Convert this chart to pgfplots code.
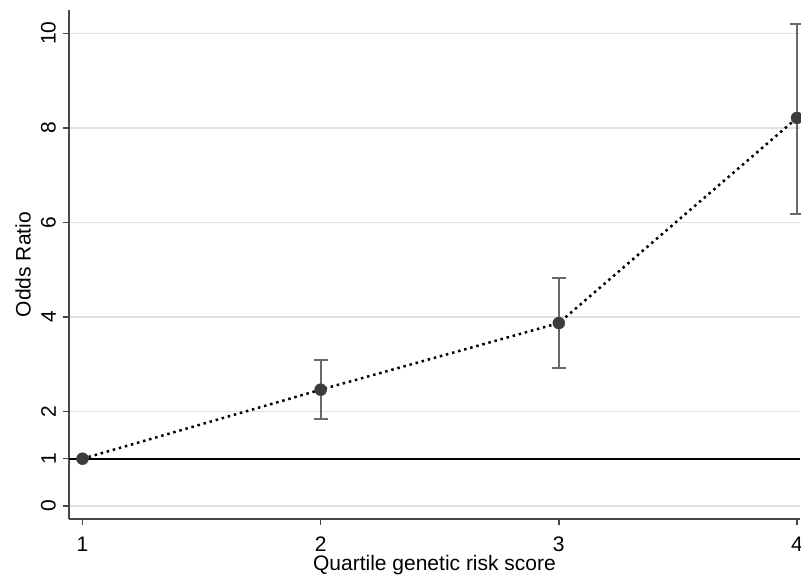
\documentclass[border=0pt]{standalone}
\usepackage{pgfplots}
\pgfplotsset{compat=1.18}
\usepackage{fontspec}
\setmainfont{Liberation Sans}
\definecolor{gridc}{RGB}{225,225,225}
\definecolor{axc}{RGB}{70,70,70}
\definecolor{markc}{RGB}{60,60,60}
\definecolor{errc}{RGB}{105,105,105}
\begin{document}
\fontsize{21}{25}\selectfont
\begin{tikzpicture}
\begin{axis}[
  scale only axis,
  width=731pt, height=509pt,
  xmin=0.9433, xmax=4.0126,
  ymin=-0.275, ymax=10.493,
  axis x line*=bottom, axis y line*=left,
  axis line style={axc, line width=1.6pt},
  xtick={1,2,3,4},
  ytick={0,1,2,4,6,8,10},
  tick align=outside,
  major tick length=6pt,
  tick style={axc, line width=1.4pt},
  ymajorgrids=true,
  grid style={gridc, line width=1.4pt},
  /pgf/number format/assume math mode=true,
  tick label style={font=\fontsize{21}{25}\selectfont},
  label style={font=\fontsize{21}{25}\selectfont},
  yticklabel style={rotate=90, anchor=south},
  xticklabel style={yshift=-5pt},
  xlabel={Quartile genetic risk score},
  ylabel={Odds Ratio},
  xlabel style={yshift=11pt},
  ylabel style={yshift=-4pt},
  clip=false,
]
\coordinate (bl) at (rel axis cs:0,0);
\addplot[black, line width=2pt] coordinates {(0.9433,1) (4.0126,1)};
\addplot[black, line width=2.5pt, dash pattern=on 2.5pt off 3.8pt, mark=none] coordinates {(1,1) (2,2.46) (3,3.87) (4,8.21)};
\addplot[draw=none, mark=none,
  error bars/.cd, y dir=both, y explicit,
  error bar style={errc, line width=2pt},
  error mark options={errc, line width=2pt, mark size=7pt, rotate=90}]
  table[x=x, y=y, y error plus=ep, y error minus=em] {
    x y ep em
    2 2.46 0.62 0.61
    3 3.87 0.96 0.95
    4 8.21 1.98 2.04
  };
\addplot[only marks, mark=*, mark size=6pt, mark options={fill=markc, draw=markc}] coordinates {(1,1) (2,2.46) (3,3.87) (4,8.21)};
\end{axis}
\pgfresetboundingbox
\path[use as bounding box] (bl) ++(-69pt,-58pt) rectangle ++(801pt,577pt);
\end{tikzpicture}
\end{document}
